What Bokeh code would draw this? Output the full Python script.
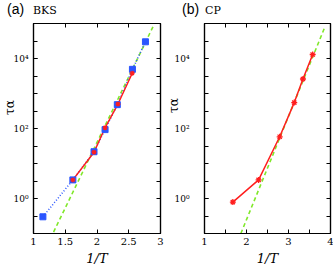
from bokeh.plotting import figure
from bokeh.layouts import row, column
from bokeh.models import LogAxis, LinearAxis, FixedTicker, Range1d, Div
from bokeh.embed import file_html
from bokeh.resources import INLINE

# Panel (a) BKS
bks_sim_x = [1.148, 1.62, 1.953, 2.127, 2.32, 2.558, 2.763]
bks_sim_tau = [0.30, 3.4, 21.7, 93, 480, 4900, 30000]
bks_red_x = [1.62, 1.953, 2.127, 2.33, 2.555]
bks_red_tau = [3.4, 21, 105, 500, 3800]
bks_fit_x = [1.316, 2.885]
bks_fit_tau = [0.11, 83000]

# Panel (b) CP
cp_red_x = [1.675, 2.288, 2.79, 3.137, 3.344, 3.576]
cp_red_tau = [0.79, 3.4, 58, 550, 2600, 13000]
cp_fit_x = [1.866, 3.876]
cp_fit_tau = [0.10, 85000]

y_major = [1, 100, 10000]
y_minor = [10 ** (k / 2) for k in range(-2, 11)]
y_labels = {1: "10⁰", 100: "10²", 10000: "10⁴"}

SERIF = "DejaVu Serif"
BLUE = "#2a55ff"
RED = "#ff1e1e"
GREEN = "#80e82a"
TOP = 5
NB = "\u00a0"


def style_ticks(ax):
    ax.major_tick_in = 4
    ax.major_tick_out = 0
    ax.minor_tick_in = 4
    ax.minor_tick_out = 0
    ax.axis_line_color = "black"
    ax.axis_line_width = 1.2
    ax.major_tick_line_color = "black"
    ax.minor_tick_line_color = "black"


def make_fig(xr, xmaj, xmin, fw, left, right, lab_standoff, ax_standoff, pad):
    p = figure(frame_width=fw, frame_height=210, x_range=Range1d(*xr),
               y_range=Range1d(0.1, 1e5), y_axis_type="log",
               output_backend="svg", toolbar_location=None,
               min_border_left=left, min_border_right=right,
               min_border_top=TOP, min_border_bottom=33)
    p.grid.visible = False
    p.outline_line_color = "black"
    p.outline_line_width = 1.2
    p.background_fill_color = "white"
    p.border_fill_color = "white"
    xa = p.xaxis[0]
    xa.ticker = FixedTicker(ticks=xmaj, minor_ticks=xmin)
    ya = p.yaxis[0]
    ya.ticker = FixedTicker(ticks=y_major, minor_ticks=y_minor)
    ya.major_label_overrides = y_labels
    for ax in (xa, ya):
        style_ticks(ax)
        ax.major_label_text_font = SERIF
        ax.major_label_text_color = "black"
    xa.major_label_text_font_size = "10px"
    ya.major_label_text_font_size = "9px"
    xa.major_label_standoff = 4
    ya.major_label_standoff = lab_standoff
    xa.axis_label = "1/T"
    xa.axis_label_text_font = SERIF
    xa.axis_label_text_font_style = "italic"
    xa.axis_label_text_font_size = "13px"
    xa.axis_label_text_color = "black"
    xa.axis_label_standoff = 3
    ya.axis_label = NB * pad + "τα"
    ya.axis_label_text_font = SERIF
    ya.axis_label_text_font_style = "normal"
    ya.axis_label_text_font_size = "12px"
    ya.axis_label_text_color = "black"
    ya.axis_label_standoff = ax_standoff
    # mirrored axes (ticks only)
    ra = LogAxis(ticker=FixedTicker(ticks=[], minor_ticks=y_minor), major_label_standoff=0)
    ta = LinearAxis(ticker=FixedTicker(ticks=[], minor_ticks=xmaj + xmin), major_label_standoff=0)
    for ax in (ra, ta):
        style_ticks(ax)
    p.add_layout(ra, "right")
    p.add_layout(ta, "above")
    return p


def title_div(width, tag, tag_left, name, name_left):
    html = (
        f'<div style="position:relative;width:{width}px;height:{23 - TOP}px;">'
        f'<span style="position:absolute;left:{tag_left}px;top:1px;font-family:\'Liberation Sans\';'
        f'font-size:14px;line-height:16px;color:black;">{tag}</span>'
        f'<span style="position:absolute;left:{name_left}px;top:4px;font-family:\'DejaVu Serif\';'
        f'font-size:11px;line-height:13px;color:black;">{name}</span></div>'
    )
    return Div(text=html, width=width, height=23 - TOP, margin=0)


p1 = make_fig((1, 3), [1, 1.5, 2, 2.5, 3], [], 127, 32, 4, 5, -7, 11)
p1.line(bks_fit_x, bks_fit_tau, line_color=GREEN, line_width=1.6, line_dash="4 3")
p1.line(bks_sim_x, bks_sim_tau, line_color=BLUE, line_width=1.5, line_dash="1 2")
p1.line(bks_red_x, bks_red_tau, line_color=RED, line_width=1.5)
p1.scatter(bks_sim_x, bks_sim_tau, marker="square", size=6, fill_color=BLUE, line_color=BLUE)
p1.scatter(bks_red_x, bks_red_tau, marker="asterisk", size=5, line_color=RED, line_width=1.2)

p2 = make_fig((1, 4), [1, 2, 3, 4], [1.5, 2.5, 3.5], 126, 35, 3, 15, -10, 12)
p2.line(cp_fit_x, cp_fit_tau, line_color=GREEN, line_width=1.6, line_dash="4 3")
p2.line(cp_red_x, cp_red_tau, line_color=RED, line_width=1.5)
p2.scatter(cp_red_x, cp_red_tau, marker="asterisk", size=6, line_color=RED, line_width=1.3)

d1 = title_div(163, "(a)", 7, "BKS", 33)
d2 = title_div(169, "(b)", 19, "CP", 42)

layout = column(row(d1, d2), row(p1, p2))
open("out.html", "w").write(file_html(layout, INLINE))
